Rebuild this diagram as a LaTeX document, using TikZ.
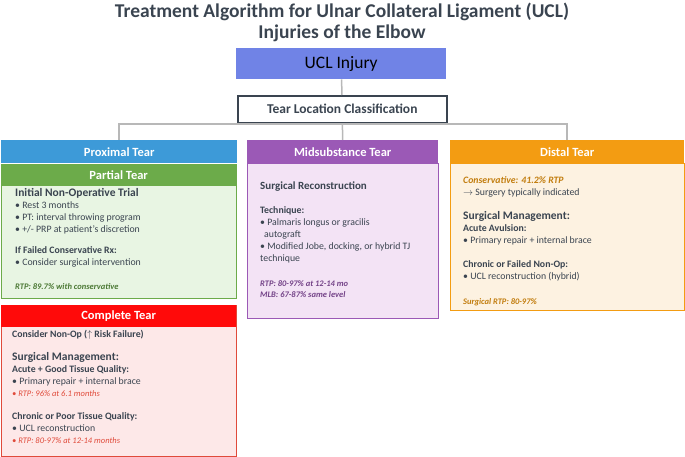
\documentclass[tikz,border=0pt]{standalone}
\usepackage{fontspec}
\setmainfont{Carlito}
\usepackage{amssymb}
\usetikzlibrary{positioning}
\definecolor{inkgray}{HTML}{3A4450}
\definecolor{ucl}{HTML}{7083E6}
\definecolor{prox}{HTML}{3D9AD8}
\definecolor{partial}{HTML}{6CAB4A}
\definecolor{partialbg}{HTML}{E8F5E3}
\definecolor{complete}{HTML}{FF0A0A}
\definecolor{completebg}{HTML}{FDE8E8}
\definecolor{completeln}{HTML}{E04A3A}
\definecolor{mid}{HTML}{9B59B6}
\definecolor{midbg}{HTML}{F3E3F5}
\definecolor{distal}{HTML}{F39C12}
\definecolor{distalbg}{HTML}{FDF2E1}
\definecolor{linkgray}{HTML}{B8B8B8}
\tikzset{
  hdr/.style={anchor=north west,minimum height=23pt,inner sep=0pt,text=white,font=\fontsize{12.5}{13}\selectfont\bfseries},
  body/.style={anchor=north west,draw,line width=1.2pt,inner sep=0pt},
  txt/.style={anchor=north west,align=left,inner sep=0pt,text=inkgray,font=\fontsize{9.8}{12}\selectfont},
  link/.style={draw=linkgray,line width=1.5pt}
}
\begin{document}
\begin{tikzpicture}[x=1pt,y=-1pt]
  \useasboundingbox (0,0) rectangle (685,457);
  % title
  \node[align=center,text=inkgray,font=\fontsize{19.5}{21}\selectfont\bfseries] (title) at (342,22)
    {Treatment Algorithm for Ulnar Collateral Ligament (UCL)\\Injuries of the Elbow};
  \node[anchor=north west,fill=ucl,minimum width=210pt,minimum height=31pt,inner sep=0pt,font=\fontsize{17.5}{18}\selectfont] (injury) at (236,48) {UCL Injury};
  \node[anchor=north west,draw=inkgray,fill=white,line width=1.6pt,minimum width=209pt,minimum height=27pt,inner sep=0pt,text=inkgray,font=\fontsize{13.5}{14}\selectfont\bfseries] (classif) at (237,95) {Tear Location Classification};
  % headers
  \node[hdr,fill=prox,minimum width=236pt] (proximal) at (1,140) {Proximal Tear};
  \node[hdr,fill=mid,minimum width=191pt] (midsub) at (247,140) {Midsubstance Tear};
  \node[hdr,fill=distal,minimum width=234pt] (distaltear) at (450,140) {Distal Tear};
  % connectors
  \coordinate (split) at (342,124);
  \draw[link] (injury) -- (classif);
  \draw[link] (classif) -- (midsub);
  \draw[link] (proximal.north) |- (split) -| (distaltear.north);
  % partial tear
  \node[body,draw=partial,fill=partialbg,minimum width=235pt,minimum height=134pt] (partialbox) at (1,164) {};
  \node[hdr,fill=partial,minimum width=235pt,minimum height=22pt] (partialhdr) at (1,164) {Partial Tear};
  \node[txt] (partialtxt) at (15,188) {{\fontsize{11.5}{13}\selectfont\bfseries Initial Non-Operative Trial}\\
    \textbullet\ Rest 3 months\\ \textbullet\ PT: interval throwing program\\ \textbullet\ +/- PRP at patient's discretion\\[9pt]
    {\bfseries If Failed Conservative Rx:}\\ \textbullet\ Consider surgical intervention};
  \node[txt,text=partial!70!black,font=\fontsize{8.5}{10}\selectfont\bfseries\itshape] (partialrtp) at (15,283) {RTP: 89.7\% with conservative};
  % complete tear
  \node[body,draw=completeln,fill=completebg,minimum width=235pt,minimum height=151pt] (completebox) at (1,305) {};
  \node[hdr,fill=complete,minimum width=235pt,minimum height=22pt] (completehdr) at (1,305) {Complete Tear};
  \node[txt] (completetxt) at (12,330) {{\bfseries Consider Non-Op ($\uparrow$ Risk Failure)}\\[11pt]
    {\fontsize{11.5}{13}\selectfont\bfseries Surgical Management:}\\ {\bfseries Acute + Good Tissue Quality:}\\
    \textbullet\ Primary repair + internal brace\\
    {\color{completeln}\fontsize{8.5}{11}\selectfont\itshape \textbullet\ RTP: 96\% at 6.1 months}\\[11pt]
    {\bfseries Chronic or Poor Tissue Quality:}\\ \textbullet\ UCL reconstruction\\
    {\color{completeln}\fontsize{8.5}{11}\selectfont\itshape \textbullet\ RTP: 80-97\% at 12-14 months}};
  % midsubstance
  \node[body,draw=mid,fill=midbg,minimum width=191pt,minimum height=155pt] (midbox) at (247,163) {};
  \node[txt] (midtxt) at (260,182) {{\fontsize{11}{13}\selectfont\bfseries Surgical Reconstruction}\\[12pt]
    {\bfseries Technique:}\\ \textbullet\ Palmaris longus or gracilis\\ \hspace*{4pt}autograft\\
    \textbullet\ Modified Jobe, docking, or hybrid TJ\\ technique};
  \node[txt,text=mid!75!black,font=\fontsize{8.5}{11}\selectfont\bfseries\itshape] (midrtp) at (260,280) {RTP: 80-97\% at 12-14 mo\\ MLB: 67-87\% same level};
  % distal
  \node[body,draw=distal,fill=distalbg,minimum width=234pt,minimum height=147pt] (distalbox) at (450,163) {};
  \node[txt] (distaltxt) at (463,176) {{\color{distal!80!black}\bfseries\itshape Conservative: 41.2\% RTP}\\
    $\rightarrow$ Surgery typically indicated\\[12pt]
    {\fontsize{11.5}{13}\selectfont\bfseries Surgical Management:}\\ {\bfseries Acute Avulsion:}\\
    \textbullet\ Primary repair + internal brace\\[12pt]
    {\bfseries Chronic or Failed Non-Op:}\\ \textbullet\ UCL reconstruction (hybrid)};
  \node[txt,text=distal!80!black,font=\fontsize{8.5}{10}\selectfont\bfseries\itshape] (distalrtp) at (463,298) {Surgical RTP: 80-97\%};
\end{tikzpicture}
\end{document}
